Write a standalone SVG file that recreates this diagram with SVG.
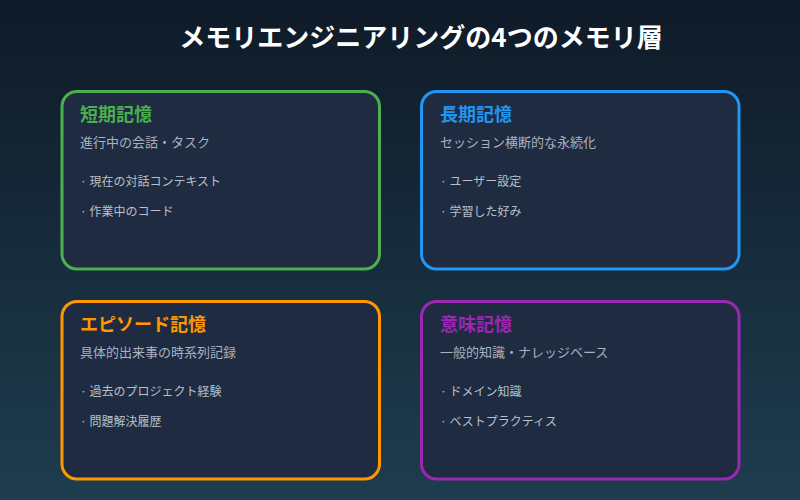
<svg xmlns="http://www.w3.org/2000/svg" width="800" height="500" viewBox="0 0 800 500">
<defs>
<linearGradient id="bg" x1="0" y1="0" x2="0" y2="1">
<stop offset="0" stop-color="#0f1a28"/>
<stop offset="1" stop-color="#1e3d4e"/>
</linearGradient>
<style>
text{font-family:"Noto Sans CJK JP","Noto Sans",sans-serif}
.card{fill:#1f2b40;stroke-width:3}
.title{font-size:26px;font-weight:bold;fill:#ffffff}
.h{font-size:18px;font-weight:bold}
.sub{font-size:13px;fill:#a8b2c0}
.item{font-size:12px;fill:#b8c0cc}
</style>
</defs>
<rect width="800" height="500" fill="url(#bg)"/>
<text class="title" x="421" y="47" text-anchor="middle">メモリエンジニアリングの4つのメモリ層</text>
<g id="short-term">
<rect class="card" x="62" y="91.5" width="317.5" height="177.5" rx="15" stroke="#4caf50"/>
<text class="h" x="80" y="121" fill="#4caf50">短期記憶</text>
<text class="sub" x="80" y="147">進行中の会話・タスク</text>
<text class="item" x="80" y="186">· 現在の対話コンテキスト</text>
<text class="item" x="80" y="216">· 作業中のコード</text>
</g>
<g id="long-term">
<rect class="card" x="421.5" y="91.5" width="317.5" height="177.5" rx="15" stroke="#2196f3"/>
<text class="h" x="440" y="121" fill="#2196f3">長期記憶</text>
<text class="sub" x="440" y="147">セッション横断的な永続化</text>
<text class="item" x="440" y="186">· ユーザー設定</text>
<text class="item" x="440" y="216">· 学習した好み</text>
</g>
<g id="episodic">
<rect class="card" x="62" y="301.5" width="317.5" height="177.5" rx="15" stroke="#ff9800"/>
<text class="h" x="80" y="331" fill="#ff9800">エピソード記憶</text>
<text class="sub" x="80" y="357">具体的出来事の時系列記録</text>
<text class="item" x="80" y="396">· 過去のプロジェクト経験</text>
<text class="item" x="80" y="426">· 問題解決履歴</text>
</g>
<g id="semantic">
<rect class="card" x="421.5" y="301.5" width="317.5" height="177.5" rx="15" stroke="#9c27b0"/>
<text class="h" x="440" y="331" fill="#9c27b0">意味記憶</text>
<text class="sub" x="440" y="357">一般的知識・ナレッジベース</text>
<text class="item" x="440" y="396">· ドメイン知識</text>
<text class="item" x="440" y="426">· ベストプラクティス</text>
</g>
<g id="connectors"></g>
</svg>
